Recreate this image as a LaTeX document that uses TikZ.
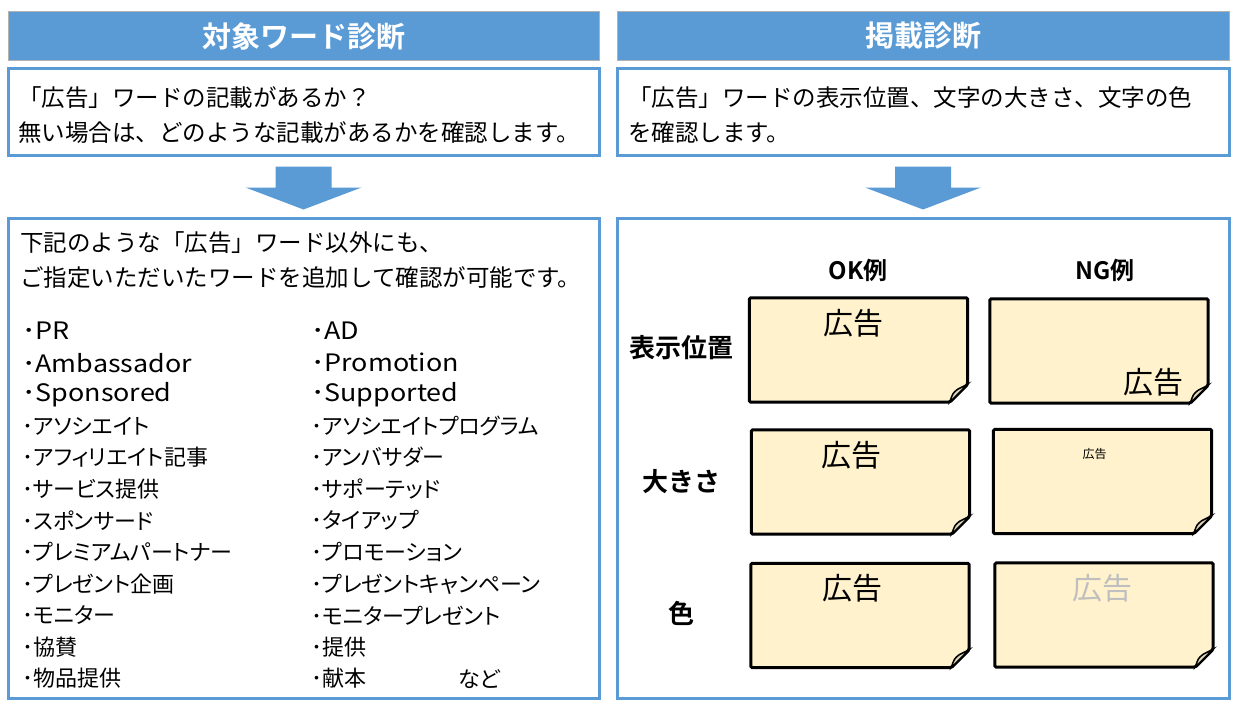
\documentclass[tikz,border=0pt]{standalone}
\usepackage{fontspec}
\setmainfont{Noto Sans CJK JP}[BoldFont={Noto Sans CJK JP Bold}]
\newfontfamily\prop{Noto Sans CJK JP}[RawFeature={+palt}]
\newfontfamily\latin{Noto Sans CJK JP}[FakeStretch=1.12]
\usepackage{tikz}
\usetikzlibrary{positioning,calc}

\definecolor{bleu}{HTML}{5B9BD5}
\definecolor{jaune}{HTML}{FFF2CC}
\definecolor{grisclair}{HTML}{BFBFBF}
\definecolor{pli}{HTML}{DDD5B8}

\tikzset{
        titre/.style={fill=bleu, draw=gray!60, line width=1pt, minimum width=591pt,
                minimum height=49pt, text=white, font=\fontsize{29}{32}\selectfont\bfseries},
        cadre/.style={draw=bleu, line width=3pt, fill=white, minimum width=591pt, inner sep=0pt},
        texte/.style={font=\fontsize{23.5}{35}\selectfont, align=left, anchor=west, inner sep=0pt},
        item/.style={font=\prop\fontsize{22}{26}\selectfont, anchor=west, inner sep=0pt},
        itemlatin/.style={font=\latin\fontsize{24}{26}\selectfont, anchor=west, inner sep=0pt},
        fleche/.style={fill=bleu},
        fiche/.style={minimum width=218pt, minimum height=104pt, inner sep=0pt},
        bord/.style={draw=black, line width=3pt, fill=jaune, rounded corners=1.5pt},
        repli/.style={draw=black, line width=1.5pt, fill=pli},
        etiquette/.style={font=\fontsize{26}{30}\selectfont\bfseries},
        exemple/.style={font=\fontsize{24}{28}\selectfont\bfseries},
        mot/.style={font=\fontsize{30}{32}\selectfont, inner sep=0pt}
}

\begin{document}
\begin{tikzpicture}[x=1pt, y=-1pt]
        \useasboundingbox (0,0) rectangle (1249,717);

        % Titres des deux colonnes
        \node[titre] (titreG) at (303.5,36) {対象ワード診断};
        \node[titre, minimum width=612pt] (titreD) at (923,36) {掲載診断};

        % Cadres du haut
        \node[cadre, minimum height=87pt] (hautG) at (303.5,111.5) {};
        \node[cadre, minimum width=612pt, minimum height=87pt] (hautD) at (923,111.5) {};
        \node[texte] (txtG) at (18,115) {「広告」ワードの記載があるか？\\無い場合は、どのような記載があるかを確認します。};
        \node[texte] (txtD) at (628,115) {「広告」ワードの表示位置、文字の大きさ、文字の色\\を確認します。};

        % Flèches vers le bas
        \foreach \c in {hautG,hautD}
                \fill[fleche] ($(\c.south)+(-28,10)$) -- ++(56,0) -- ++(0,21) -- ++(30,0)
                        -- ($(\c.south)+(0,53)$) -- ($(\c.south)+(-58,31)$) -- ++(30,0) -- cycle;

        % Cadres du bas
        \node[cadre, minimum height=480pt] (basG) at (303.5,458) {};
        \node[cadre, minimum width=612pt, minimum height=480pt] (basD) at (923,458) {};

        % Liste des mots
        \node[texte] (intro) at (20,260.5) {下記のような「広告」ワード以外にも、\\ご指定いただいたワードを追加して確認が可能です。};
        \foreach \mot [count=\i] in {PR, Ambassador, Sponsored}
                \node[itemlatin] (g\i) at (22,{331+31.6*(\i-1)}) {･\mot};
        \foreach \mot [count=\i from 4] in {アソシエイト, アフィリエイト記事, サービス提供, スポンサード,
                プレミアムパートナー, プレゼント企画, モニター, 協賛, 物品提供}
                \node[item] (g\i) at (22,{331+31.6*(\i-1)}) {･\mot};
        \foreach \mot [count=\i] in {AD, Promotion, Supported}
                \node[itemlatin] (d\i) at (311,{331+31.6*(\i-1)}) {･\mot};
        \foreach \mot [count=\i from 4] in {アソシエイトプログラム, アンバサダー, サポーテッド, タイアップ,
                プロモーション, プレゼントキャンペーン, モニタープレゼント, 提供, 献本}
                \node[item] (d\i) at (311,{331+31.6*(\i-1)}) {･\mot};
        \node[item] (nado) at (458,{331+31.6*11}) {など};

        % Exemples OK / NG
        \node[exemple] (ok) at (858,270) {OK例};
        \node[exemple] (ng) at (1105,270) {NG例};
        \node[etiquette] (position) at (681,348) {表示位置};
        \node[etiquette] (taille) at (681,482) {大きさ};
        \node[etiquette] (couleur) at (681,613) {色};

        \node[fiche] (okA) at (858.5,350) {};
        \node[fiche] (ngA) at (1099,351) {};
        \node[fiche] (okB) at (860.5,482) {};
        \node[fiche] (ngB) at (1102.5,481.5) {};
        \node[fiche] (okC) at (860,615.5) {};
        \node[fiche] (ngC) at (1104,615) {};
        \foreach \f in {okA,ngA,okB,ngB,okC,ngC} {
                \filldraw[bord] (\f.north west) -- (\f.north east) -- ($(\f.south east)+(0,-18)$)
                        -- ($(\f.south east)+(-18,0)$) -- (\f.south west) -- cycle;
                \filldraw[repli] ($(\f.south east)+(-18,0)$) .. controls ($(\f.south east)+(-15,-9)$)
                        .. ($(\f.south east)+(-10,-13)$) -- ($(\f.south east)+(0,-18)$) -- cycle;
        }

        % Le mot « 広告 » dans chaque fiche
        \node[mot] (motA) at ($(okA.north)+(-5,25)$) {広告};
        \node[mot] (motB) at ($(ngA.south east)+(-55,-21)$) {広告};
        \node[mot] (motC) at ($(okB.north)+(-9,25)$) {広告};
        \node[mot, font=\fontsize{12}{14}\selectfont] (motD) at ($(ngB.north)+(-8,25)$) {広告};
        \node[mot] (motE) at ($(okC.north)+(-8,25)$) {広告};
        \node[mot, text=grisclair] (motF) at ($(ngC.north)+(-2,25)$) {広告};
\end{tikzpicture}
\end{document}
